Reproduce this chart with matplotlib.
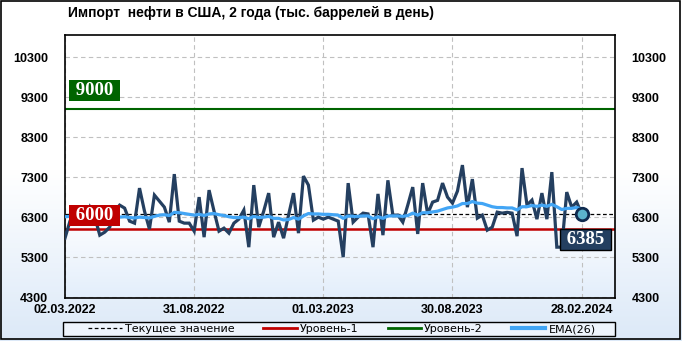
import numpy as np
import pandas as pd
import matplotlib
matplotlib.use("Agg")
import matplotlib.pyplot as plt
import matplotlib.dates as mdates
from matplotlib.patches import Rectangle

# weekly imports, thousand barrels per day
dates = pd.date_range("2022-03-02", periods=105, freq="7D")
imports = [
    5775, 6200, 6450, 6350, 6250, 6550, 6300, 5850, 5925, 6050,
    6450, 6600, 6525, 6200, 6150, 7025, 6450, 6000, 6850, 6700,
    6550, 6175, 7375, 6200, 6150, 6150, 5950, 6800, 5800, 6975,
    6450, 5950, 6025, 5900, 6150, 6250, 6475, 5550, 7100, 6050,
    6450, 6900, 5800, 6175, 5775, 6350, 6900, 5900, 7325, 7100,
    6225, 6300, 6250, 6300, 6250, 6200, 5300, 7150, 6175, 6300,
    6400, 6380, 5550, 6880, 5850, 7220, 6350, 6350, 6175, 6600,
    7050, 5880, 7150, 6380, 6675, 6720, 7150, 6800, 6650, 6950,
    7600, 6550, 7250, 6275, 6350, 5975, 6050, 6425, 6400, 6420,
    6400, 5825, 7525, 6600, 6725, 6250, 6900, 6250, 7425, 5550,
    5550, 6925, 6550, 6675, 6385,
]
ema26 = [
    6310, 6320, 6330, 6320, 6310, 6330, 6310, 6290, 6280, 6280,
    6290, 6300, 6310, 6290, 6280, 6300, 6290, 6280, 6320, 6350,
    6360, 6340, 6420, 6410, 6390, 6370, 6350, 6370, 6340, 6380,
    6390, 6360, 6340, 6310, 6290, 6290, 6300, 6260, 6320, 6290,
    6300, 6320, 6270, 6270, 6230, 6240, 6290, 6250, 6330, 6390,
    6380, 6380, 6370, 6370, 6360, 6350, 6270, 6330, 6320, 6320,
    6330, 6330, 6260, 6310, 6270, 6330, 6330, 6330, 6320, 6340,
    6400, 6350, 6410, 6410, 6430, 6450, 6490, 6530, 6550, 6580,
    6640, 6640, 6690, 6650, 6640, 6600, 6560, 6540, 6540, 6530,
    6530, 6480, 6560, 6560, 6590, 6570, 6600, 6570, 6620, 6560,
    6490, 6520, 6520, 6540, 6500,
]
current = 6385
level1 = 6000
level2 = 9000
yticks = [4300, 5300, 6300, 7300, 8300, 9300, 10300]
xtick_dates = pd.to_datetime(["2022-03-02", "2022-08-31", "2023-03-01",
                              "2023-08-30", "2024-02-28"])

navy = "#243f60"
ema_col = "#42a5f5"
red = "#c00000"
green = "#006400"

plt.rcParams["font.family"] = ["Liberation Sans", "DejaVu Sans"]

fig = plt.figure(figsize=(6.82, 3.41), dpi=100)

# figure background gradient
bg = fig.add_axes([0, 0, 1, 1], zorder=-10)
grad = np.linspace(0, 1, 256).reshape(-1, 1)
bg_cmap = matplotlib.colors.LinearSegmentedColormap.from_list("bg", ["#ffffff", "#ffffff", "#dce9f8"])
bg.imshow(grad, aspect="auto", cmap=bg_cmap, extent=[0, 1, 0, 1], origin="upper")
bg.set_axis_off()
fig.patches.append(Rectangle((0.002, 0.006), 0.995, 0.99, transform=fig.transFigure,
                             fill=False, edgecolor="black", linewidth=1.2))

ax = fig.add_axes([65 / 682, 1 - 298 / 341, (615 - 65) / 682, (298 - 35) / 341])
x0 = mdates.date2num(dates[0])
x1 = mdates.date2num(dates[-1] + pd.Timedelta(days=47))
y0, y1 = 4280, 10850
ax_cmap = matplotlib.colors.LinearSegmentedColormap.from_list("ax", ["#ffffff", "#ffffff", "#ffffff", "#e3eefb"])
ax.imshow(grad, aspect="auto", cmap=ax_cmap, extent=[x0, x1, y0, y1], origin="upper", zorder=0)
ax.set_xlim(x0, x1)
ax.set_ylim(y0, y1)

ax.grid(True, color="#c0c0c0", linestyle=(0, (4, 3)), linewidth=0.8, zorder=1)
ax.axhline(level2, color=green, linewidth=1.5, zorder=2)
ax.axhline(level1, color=red, linewidth=1.8, zorder=2)
ax.axhline(current, color="black", linestyle=(0, (3, 2)), linewidth=0.9, zorder=3)
ax.plot(dates, imports, color=navy, linewidth=2.3, zorder=4, solid_joinstyle="miter")
ax.plot(dates, ema26, color=ema_col, linewidth=2.3, zorder=5)
ax.plot(dates[-1], imports[-1], "o", markersize=9, markerfacecolor="#5bb3cc",
        markeredgecolor="#0e2a4f", markeredgewidth=2, zorder=6)

lab_font = dict(family="Liberation Serif", weight="bold", color="white", fontsize=13.5)
ytr = ax.get_yaxis_transform()
ax.text(0.0536, level2 + 460, f" {level2} ", transform=ytr, ha="center", va="center", zorder=7,
        bbox=dict(boxstyle="square,pad=0.1", facecolor=green, edgecolor="none"), **lab_font)
ax.text(0.0536, level1 + 340, f" {level1} ", transform=ytr, ha="center", va="center", zorder=7,
        bbox=dict(boxstyle="square,pad=0.1", facecolor=red, edgecolor="none"), **lab_font)
ax.text(0.946, current - 650, f" {current} ", transform=ytr, ha="center", va="center", zorder=7,
        bbox=dict(boxstyle="square,pad=0.1", facecolor=navy, edgecolor="black", linewidth=1), **lab_font)

ax.set_yticks(yticks)
ax.set_yticklabels([str(v) for v in yticks])
ax.set_xticks(xtick_dates)
ax.xaxis.set_major_formatter(mdates.DateFormatter("%d.%m.%Y"))
ax.tick_params(axis="y", length=0, pad=12, labelsize=9, labelright=True, right=False)
ax.tick_params(axis="x", length=0, pad=4, labelsize=9)
for t in ax.get_xticklabels():
    t.set_fontweight("bold")
for t in ax.yaxis.get_major_ticks():
    t.label1.set_fontweight("bold")
    t.label2.set_fontweight("bold")
for s in ax.spines.values():
    s.set_color("black")
    s.set_linewidth(1.2)
ax.set_zorder(2)

fig.text(68 / 682, 1 - 13 / 341, "Импорт  нефти в США, 2 года (тыс. баррелей в день)",
         fontsize=10, fontweight="bold", va="center", ha="left")

# legend box
fig.patches.append(Rectangle((63 / 682, 5 / 341), (615 - 63) / 682, 14 / 341,
                             transform=fig.transFigure, facecolor="#eef4fc",
                             edgecolor="black", linewidth=1, zorder=1))
handles = [
    plt.Line2D([], [], color="black", linestyle=(0, (3, 2)), linewidth=0.9),
    plt.Line2D([], [], color=red, linewidth=2),
    plt.Line2D([], [], color=green, linewidth=2),
    plt.Line2D([], [], color=ema_col, linewidth=3),
]
names = ["Текущее значение", "Уровень-1", "Уровень-2", "EMA(26)"]
leg = fig.legend(handles, names, loc="center", ncol=4,
                 bbox_to_anchor=(342 / 682, 1 - 329 / 341),
                 frameon=False, handlelength=3.0, handletextpad=0.3,
                 columnspacing=2.6, borderpad=0,
                 prop={"family": "DejaVu Sans", "size": 8})

fig.savefig("out.png", dpi=100)
